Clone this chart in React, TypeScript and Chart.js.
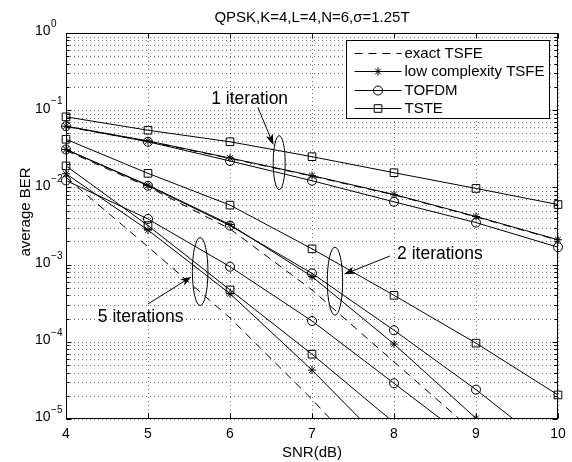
import React, { useEffect, useRef } from "react";
import { Chart, registerables } from "chart.js";

Chart.register(...registerables);

// ---------- data ----------
const snrDb = [4, 5, 6, 7, 8, 9, 10];
const xTickValues = [4, 5, 6, 7, 8, 9, 10];
const yExponents = [0, -1, -2, -3, -4, -5];

const exactTsfe1 = [0.0612, 0.0395, 0.0237, 0.014, 0.008, 0.00415, 0.00207];
const lowTsfe1 = [0.062, 0.04, 0.024, 0.0142, 0.0081, 0.0042, 0.0021];
const tofdm1 = [0.062, 0.039, 0.022, 0.0122, 0.0065, 0.0035, 0.00168];
const tste1 = [0.082, 0.055, 0.039, 0.025, 0.0155, 0.0097, 0.006];

const exactTsfe2 = [0.03, 0.0102, 0.0029, 0.00047, 0.000055, 0.0000065, 0.0000008];
const lowTsfe2 = [0.031, 0.0107, 0.0033, 0.0007, 0.0000935, 0.0000102, 0.0000011];
const tofdm2 = [0.031, 0.0105, 0.0032, 0.00077, 0.000141, 0.000024, 0.0000035];
const tste2 = [0.042, 0.0152, 0.0059, 0.0016, 0.0004, 0.000096, 0.0000205];

const exactTsfe5 = [0.0135, 0.0017, 0.000204, 0.000018, 0.0000013, null, null];
const lowTsfe5 = [0.015, 0.0028, 0.00042, 0.000043, 0.0000036, null, null];
const tofdm5 = [0.0123, 0.0039, 0.00094, 0.000186, 0.000029, 0.0000045, null];
const tste5 = [0.019, 0.0032, 0.00047, 0.000069, 0.000009, null, null];

const legendNames = ["exact TSFE", "low complexity TSFE", "TOFDM", "TSTE"];
const titleText = "QPSK,K=4,L=4,N=6,\u03c3=1.25T";
const xTitle = "SNR(dB)";
const yTitle = "average BER";

// annotation anchors in data space (text baseline, ellipse centre, arrow tail, arrow tip)
const noteTexts = ["1 iteration", "2 iterations", "5 iterations"];
const noteTextAt = [[6.24, 0.119], [8.56, 0.00117], [4.91, 0.000182]];
const noteEllipseAt = [[6.6, 0.0209], [7.28, 0.00061], [5.636, 0.000814]];
const noteArrowFrom = [[6.34, 0.109], [7.95, 0.00129], [5.0, 0.000309]];
const noteArrowTo = [[6.53, 0.0354], [7.39, 0.000748], [5.53, 0.000697]];
const noteEllipseRadii = [[6, 27], [7.7, 34], [7.8, 34]];

const FONT = "'Liberation Sans', Arial, Helvetica, sans-serif";
const kinds = ["exact", "low", "tofdm", "tste"];

function toPoints(values: (number | null)[]) {
  const pts: { x: number; y: number }[] = [];
  values.forEach((v, i) => {
    if (v !== null) pts.push({ x: snrDb[i], y: v });
  });
  return pts;
}

function seriesStyle(kind: string) {
  const base: any = {
    borderColor: "#000",
    backgroundColor: "rgba(0,0,0,0)",
    borderWidth: 1,
    pointBorderColor: "#000",
    pointBackgroundColor: "rgba(0,0,0,0)",
    pointBorderWidth: 1,
    tension: 0,
    fill: false,
    clip: { left: 10, right: 10, top: 0, bottom: 0 },
  };
  if (kind === "exact") return { ...base, borderDash: [8, 6], pointRadius: 0 };
  if (kind === "low") return { ...base, pointStyle: "star", pointRadius: 4 };
  if (kind === "tofdm") return { ...base, pointStyle: "circle", pointRadius: 4.5 };
  return { ...base, pointStyle: "rect", pointRadius: 5.4 };
}

function drawMarker(ctx: CanvasRenderingContext2D, kind: string, x: number, y: number) {
  ctx.beginPath();
  if (kind === "low") {
    const r = 4;
    ctx.moveTo(x - r, y); ctx.lineTo(x + r, y);
    ctx.moveTo(x, y - r); ctx.lineTo(x, y + r);
    const d = r * Math.SQRT1_2;
    ctx.moveTo(x - d, y - d); ctx.lineTo(x + d, y + d);
    ctx.moveTo(x - d, y + d); ctx.lineTo(x + d, y - d);
  } else if (kind === "tofdm") {
    ctx.arc(x, y, 4.5, 0, Math.PI * 2);
  } else if (kind === "tste") {
    ctx.rect(x - 3.8, y - 3.8, 7.6, 7.6);
  }
  ctx.stroke();
}

const matlabPlugin = {
  id: "matlabLook",
  beforeDatasetsDraw(chart: any) {
    const { ctx, chartArea: a, scales } = chart;
    const sx = scales.x, sy = scales.y;
    ctx.save();
    ctx.fillStyle = "#fff";
    ctx.fillRect(a.left, a.top, a.right - a.left, a.bottom - a.top);
    ctx.strokeStyle = "rgba(0,0,0,0.55)";
    ctx.lineWidth = 1;
    ctx.setLineDash([1, 3]);
    xTickValues.forEach((v) => {
      const px = Math.round(sx.getPixelForValue(v)) + 0.5;
      ctx.beginPath();
      ctx.moveTo(px, a.top);
      ctx.lineTo(px, a.bottom);
      ctx.stroke();
    });
    for (let e = -5; e < 0; e++) {
      for (let m = 1; m <= 9; m++) {
        const py = Math.round(sy.getPixelForValue(m * Math.pow(10, e))) + 0.5;
        ctx.beginPath();
        ctx.moveTo(a.left, py);
        ctx.lineTo(a.right, py);
        ctx.stroke();
      }
    }
    ctx.restore();
  },
  afterDatasetsDraw(chart: any) {
    const { ctx, chartArea: a, scales } = chart;
    const sx = scales.x, sy = scales.y;
    ctx.save();
    ctx.setLineDash([]);
    ctx.strokeStyle = "#000";
    ctx.fillStyle = "#000";
    ctx.lineWidth = 1;

    // axes box
    const L = Math.round(a.left) + 0.5, R = Math.round(a.right) - 0.5;
    const T = Math.round(a.top) + 0.5, B = Math.round(a.bottom) - 0.5;
    ctx.strokeRect(L, T, R - L, B - T);

    // ticks (inside)
    ctx.beginPath();
    xTickValues.forEach((v) => {
      const px = Math.round(sx.getPixelForValue(v)) + 0.5;
      ctx.moveTo(px, B); ctx.lineTo(px, B - 5);
      ctx.moveTo(px, T); ctx.lineTo(px, T + 5);
    });
    for (let e = -5; e <= 0; e++) {
      for (let m = 1; m <= 9; m++) {
        const v = m * Math.pow(10, e);
        if (v > 1) break;
        const py = Math.round(sy.getPixelForValue(v)) + 0.5;
        const len = m === 1 ? 5 : 3;
        ctx.moveTo(L, py); ctx.lineTo(L + len, py);
        ctx.moveTo(R, py); ctx.lineTo(R - len, py);
      }
    }
    ctx.stroke();

    // x tick labels
    ctx.font = `14px ${FONT}`;
    ctx.textAlign = "center";
    ctx.textBaseline = "alphabetic";
    xTickValues.forEach((v) => {
      ctx.fillText(String(v), sx.getPixelForValue(v), a.bottom + 19);
    });

    // y tick labels 10^e
    yExponents.forEach((e) => {
      const py = sy.getPixelForValue(Math.pow(10, e));
      ctx.font = `14px ${FONT}`;
      ctx.textAlign = "left";
      ctx.textBaseline = "middle";
      ctx.fillText("10", a.left - 31, py - 1.5);
      const w = ctx.measureText("10").width;
      ctx.font = `10px ${FONT}`;
      ctx.fillText(e === 0 ? "0" : "\u2212" + String(-e), a.left - 31 + w + 0.5, py - 8.5);
    });

    // axis titles
    ctx.font = `15px ${FONT}`;
    ctx.textAlign = "center";
    ctx.textBaseline = "alphabetic";
    ctx.fillText(xTitle, (a.left + a.right) / 2, a.bottom + 38);
    ctx.save();
    ctx.translate(a.left - 36, 212);
    ctx.rotate(-Math.PI / 2);
    ctx.fillText(yTitle, 0, 0);
    ctx.restore();

    // title
    ctx.font = `15px ${FONT}`;
    ctx.fillText(titleText, (a.left + a.right) / 2, a.top - 11);

    // annotations
    noteTexts.forEach((t, i) => {
      const ex = sx.getPixelForValue(noteEllipseAt[i][0]);
      const ey = sy.getPixelForValue(noteEllipseAt[i][1]);
      ctx.beginPath();
      ctx.ellipse(ex, ey, noteEllipseRadii[i][0], noteEllipseRadii[i][1], 0, 0, Math.PI * 2);
      ctx.stroke();

      const fx = sx.getPixelForValue(noteArrowFrom[i][0]);
      const fy = sy.getPixelForValue(noteArrowFrom[i][1]);
      const hx = sx.getPixelForValue(noteArrowTo[i][0]);
      const hy = sy.getPixelForValue(noteArrowTo[i][1]);
      const ang = Math.atan2(hy - fy, hx - fx);
      const hl = 11, hw = 3.8, notch = 3;
      const bx = hx - hl * Math.cos(ang), by = hy - hl * Math.sin(ang);
      const nx = hx - (hl - notch) * Math.cos(ang), ny = hy - (hl - notch) * Math.sin(ang);
      ctx.beginPath();
      ctx.moveTo(fx, fy);
      ctx.lineTo(nx, ny);
      ctx.stroke();
      ctx.beginPath();
      ctx.moveTo(hx, hy);
      ctx.lineTo(bx - hw * Math.sin(ang), by + hw * Math.cos(ang));
      ctx.lineTo(nx, ny);
      ctx.lineTo(bx + hw * Math.sin(ang), by - hw * Math.cos(ang));
      ctx.closePath();
      ctx.fill();

      ctx.font = `17.5px ${FONT}`;
      ctx.textAlign = "center";
      ctx.textBaseline = "alphabetic";
      ctx.fillText(t, sx.getPixelForValue(noteTextAt[i][0]), sy.getPixelForValue(noteTextAt[i][1]));
    });

    // legend
    ctx.font = `15px ${FONT}`;
    const maxW = Math.max(...legendNames.map((n) => ctx.measureText(n).width));
    const boxW = 58 + maxW + 6;
    const boxR = a.right - 8;
    const boxL = Math.round(boxR - boxW) + 0.5;
    const boxT = Math.round(a.top + 7) + 0.5;
    const boxH = 78;
    ctx.fillStyle = "#fff";
    ctx.fillRect(boxL, boxT, boxR - boxL, boxH);
    ctx.fillStyle = "#000";
    ctx.strokeRect(boxL, boxT, Math.round(boxR) - 0.5 - boxL, boxH);
    ctx.textAlign = "left";
    ctx.textBaseline = "middle";
    legendNames.forEach((name, i) => {
      const y = Math.round(boxT + 12.5 + i * 18.4) + 0.5;
      ctx.beginPath();
      ctx.setLineDash(kinds[i] === "exact" ? [8, 6] : []);
      ctx.moveTo(boxL + 8, y);
      ctx.lineTo(boxL + 55, y);
      ctx.stroke();
      ctx.setLineDash([]);
      drawMarker(ctx, kinds[i], boxL + 31.5, y);
      ctx.fillText(name, boxL + 58, y + 0.5);
    });

    ctx.restore();
  },
};

export default function App() {
  const ref = useRef<HTMLCanvasElement>(null);
  useEffect(() => {
    document.body.style.margin = "0";
    const canvas = ref.current;
    if (!canvas) return;
    const groups = [
      [exactTsfe1, lowTsfe1, tofdm1, tste1],
      [exactTsfe2, lowTsfe2, tofdm2, tste2],
      [exactTsfe5, lowTsfe5, tofdm5, tste5],
    ];
    const iterLabels = ["1 iteration", "2 iterations", "5 iterations"];
    const datasets: any[] = [];
    groups.forEach((g, gi) => {
      g.forEach((vals, k) => {
        datasets.push({
          label: `${legendNames[k]} (${iterLabels[gi]})`,
          data: toPoints(vals),
          ...seriesStyle(kinds[k]),
        });
      });
    });
    const chart = new Chart(canvas, {
      type: "line",
      data: { datasets },
      options: {
        responsive: false,
        animation: false,
        devicePixelRatio: 1,
        events: [],
        layout: { padding: { left: 66, right: 14, top: 33, bottom: 43 } },
        scales: {
          x: { type: "linear", min: 4, max: 10, display: false },
          y: { type: "logarithmic", min: 1e-5, max: 1, display: false },
        },
        plugins: {
          legend: { display: false },
          tooltip: { enabled: false },
          title: { display: false },
        },
      },
      plugins: [matlabPlugin],
    } as any);
    return () => chart.destroy();
  }, []);
  return (
    <div style={{ width: 572, height: 462, background: "#fff" }}>
      <canvas ref={ref} width={572} height={462} style={{ display: "block" }} />
    </div>
  );
}
